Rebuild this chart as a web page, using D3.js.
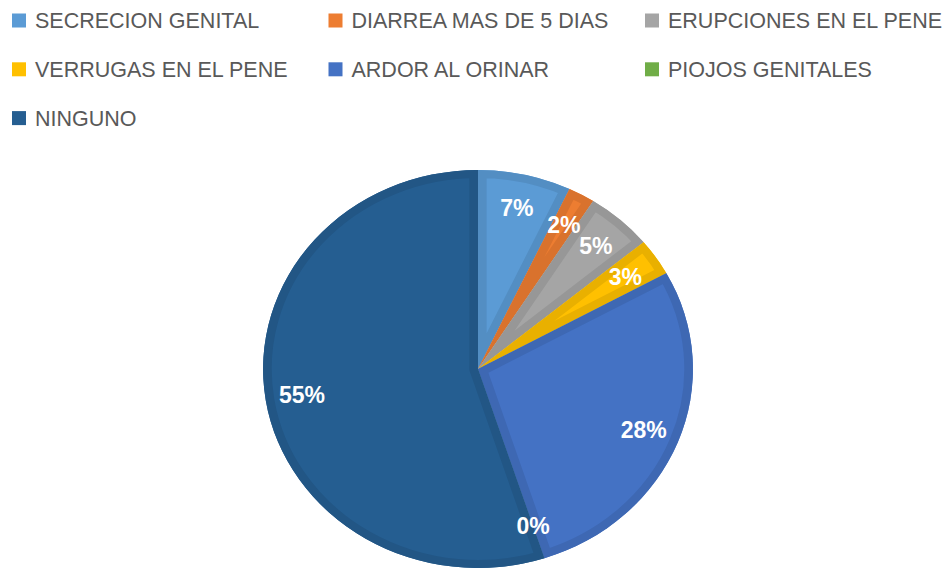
<!DOCTYPE html>
<html>
<head>
<meta charset="utf-8">
<script src="https://cdn.jsdelivr.net/npm/d3@7"></script>
<style>
  html, body { margin: 0; padding: 0; background: #fff; }
  svg { display: block; }
</style>
</head>
<body>
<div id="chart"></div>
<script>
// Data
const categories = [
  'SECRECION GENITAL',
  'DIARREA MAS DE 5 DIAS',
  'ERUPCIONES EN EL PENE',
  'VERRUGAS EN EL PENE',
  'ARDOR AL ORINAR',
  'PIOJOS GENITALES',
  'NINGUNO'
];
const values = [7, 2, 5, 3, 28, 0, 55];
const colors = ['#5b9bd5', '#ed7d31', '#a5a5a5', '#ffc000', '#4472c4', '#70ad47', '#255e91'];

const width = 949;
const height = 572;

const data = categories.map((c, i) => ({ name: c, value: values[i], color: colors[i] }));

const svg = d3.select('#chart').append('svg')
  .attr('width', width)
  .attr('height', height);

// Legend (3 columns)
const legend = svg.append('g').attr('class', 'legend');
const legendItems = legend.selectAll('.legend-item')
  .data(data)
  .enter()
  .append('g')
  .attr('class', 'legend-item')
  .attr('transform', (d, i) => `translate(${12 + (i % 3) * 316.5}, ${20.5 + Math.floor(i / 3) * 48.8})`);

legendItems.append('rect')
  .attr('x', 0)
  .attr('y', -7)
  .attr('width', 14)
  .attr('height', 14)
  .attr('fill', d => d.color);

legendItems.append('text')
  .attr('x', 23)
  .attr('y', 0)
  .attr('dy', '0.36em')
  .style('font-family', '"Liberation Sans", Arial, sans-serif')
  .style('font-size', '21.5px')
  .style('fill', '#595959')
  .text(d => d.name);

// Pie (slightly stretched horizontally, like the reference)
const cx = 478, cy = 369;
const radius = 199;
const stretch = 1.08;
const labelRadius = 165;

const pie = d3.pie()
  .sort(null)
  .value(d => d.value);

const arc = d3.arc()
  .innerRadius(0)
  .outerRadius(radius);

const labelArc = d3.arc()
  .innerRadius(labelRadius)
  .outerRadius(labelRadius);

const arcs = pie(data);

const defs = svg.append('defs');
const pieGroup = svg.append('g')
  .attr('transform', `translate(${cx}, ${cy}) scale(${stretch}, 1)`);

arcs.forEach((a, i) => {
  if (a.endAngle - a.startAngle <= 0) return;
  defs.append('clipPath')
    .attr('id', `clip-${i}`)
    .append('path')
    .attr('d', arc(a));

  const slice = pieGroup.append('g').attr('class', 'slice');
  slice.append('path')
    .attr('d', arc(a))
    .attr('fill', a.data.color);
  // darker inner band along the slice edge
  slice.append('path')
    .attr('d', arc(a))
    .attr('fill', 'none')
    .attr('stroke', d3.color(a.data.color).darker(0.25))
    .attr('stroke-width', 16)
    .attr('stroke-linejoin', 'round')
    .attr('clip-path', `url(#clip-${i})`);
});

// Percentage labels
svg.append('g')
  .attr('class', 'labels')
  .selectAll('text')
  .data(arcs)
  .enter()
  .append('text')
  .attr('x', d => cx + labelArc.centroid(d)[0] * stretch)
  .attr('y', d => cy + labelArc.centroid(d)[1])
  .attr('text-anchor', 'middle')
  .attr('dy', '0.36em')
  .style('font-family', '"Liberation Sans", Arial, sans-serif')
  .style('font-size', '23px')
  .style('font-weight', 'bold')
  .style('fill', '#ffffff')
  .text(d => `${d.data.value}%`);
</script>
</body>
</html>
